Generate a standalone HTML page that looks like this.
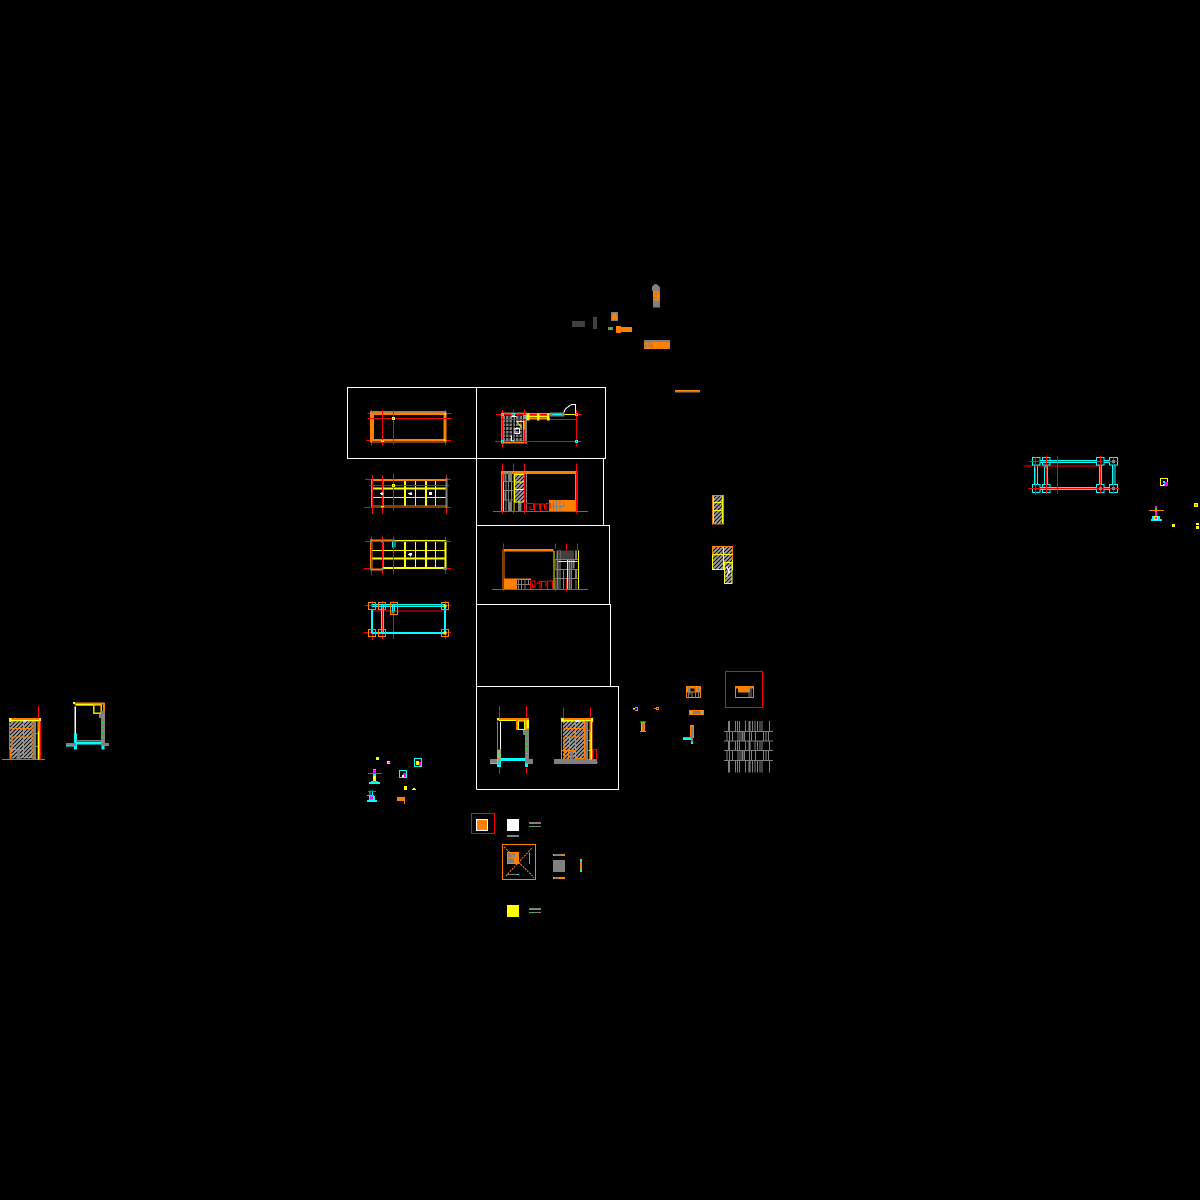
<!DOCTYPE html>
<html><head><meta charset="utf-8"><title>CAD drawing sheet</title>
<style>html,body{margin:0;padding:0;background:#000}svg{display:block}</style></head>
<body>
<svg xmlns="http://www.w3.org/2000/svg" width="1200" height="1200" viewBox="0 0 1200 1200" shape-rendering="crispEdges" fill="none">
<defs>
<pattern id="h" width="12" height="12" patternUnits="userSpaceOnUse"><rect width="12" height="12" fill="#111"/><path d="M-3 3L3 -3M0 12L12 0M9 15L15 9" stroke="#a0a0a0" stroke-width="5"/></pattern>
</defs>
<rect width="1200" height="1200" fill="#000"/>
<!-- frames -->
<path stroke="#fff" stroke-width="1" d="M347.5 387.5H605.5V458.5H347.5ZM476.5 387.5V789.5M603.5 458.5V525.5M476.5 525.5H609.5V604.5M476.5 604.5H610.5V686.5M476.5 686.5H618.5V789.5H476.5"/>

<!-- zoom 1 -->
<g transform="translate(340 380) scale(.33333)">
 <!-- plan 1 -->
 <rect x="90" y="93" width="230" height="95" fill="#ff7f00"/>
 <rect x="102" y="105" width="208" height="72" fill="#000"/>
 <rect x="96" y="183" width="218" height="2" fill="#000"/>
 <rect x="90" y="93" width="230" height="4" fill="#808080"/>
 <path stroke="#f00" stroke-width="3" d="M82 100H90M320 100H335M82 115H335M78 181H90M320 181H333M94 90V93M94 188V197M127 90V195M160 90V195M317 90V93M317 188V195"/>
 <rect x="156" y="111" width="9" height="9" fill="#ff0"/><rect x="159" y="114" width="3" height="3" fill="#ff7f00"/>
 <rect x="123" y="182" width="9" height="4" fill="#ff0"/><rect x="313" y="99" width="5" height="6" fill="#ff0"/><rect x="311" y="178" width="6" height="5" fill="#ff0"/>
 <!-- plan 2 -->
 <rect x="483" y="97" width="78" height="94" fill="#808080"/>
 <path stroke="#000" stroke-width="3" d="M492 107H551M492 118H551M492 129H551M492 140H551M492 151H551M492 162H551M492 173H551M497 107V181M507 107V181M517 107V181M527 107V181M537 107V181M547 107V181"/>
 <path stroke="#ff7f00" stroke-width="6" d="M552 97V191M483 188H561"/>
 <path stroke="#808080" stroke-width="4" d="M485 97V190"/>
 <path stroke="#f00" stroke-width="3" d="M468 103H725M483 118H712M465 184H725M488 90V203M520 88V190M553 88V190M709 90V200"/>
 <rect x="560" y="107" width="65" height="6" fill="#ff0"/>
 <path stroke="#ff7f00" stroke-width="3" d="M560 101H630M560 116H630"/>
 <path stroke="#ff0" stroke-width="8" d="M564 100V122M595 100V122M625 100V122"/>
 <rect x="630" y="98" width="44" height="12" fill="#808080"/><path stroke="#0ff" stroke-width="3" d="M638 103H666"/>
 <path stroke="#ff0" stroke-width="3" d="M673 103H705M530 125H552V148M530 125L545 142"/>
 <path stroke="#fff" stroke-width="3" d="M672 98L675 88L686 79L696 73H707V103M514 110H530M525 145H539V160H525ZM514 166V182H522"/>
 <path stroke="#0ff" stroke-width="3" d="M486 100H491V107H486ZM516 100H524V106H516ZM552 106H558V114H552ZM706 100H713V107H706ZM706 181H713V188H706ZM484 181H491V189H484ZM516 181H520V188"/>
 <!-- plan 3 -->
 <rect x="93" y="297" width="230" height="85" fill="#ff7f00"/>
 <rect x="98" y="303" width="218" height="73" fill="#000"/>
 <path stroke="#ff0" stroke-width="6" d="M98 326H316M195 303V376M258 303V376"/>
 <path stroke="#ff0" stroke-width="3" d="M98 352H316M129 303V376M226 303V376M286 303V376"/>
 <rect x="96" y="378" width="222" height="2" fill="#000"/>
 <path stroke="#f00" stroke-width="3" d="M75 298H93M323 298H333M87 317H327M72 382H93M323 382H333M97 285V402M127 285V400M160 280V392M320 285V400"/>
 <rect x="156" y="312" width="9" height="9" fill="#ff0"/><rect x="159" y="315" width="3" height="3" fill="#ff7f00"/>
 <path fill="#fff" d="M123 337H131V345H123ZM120 339H124V342H120ZM208 337H216V345H208ZM204 339H208V342H204ZM267 336H276V345H267Z"/>
 <rect x="316" y="294" width="6" height="90" fill="#808080"/>
 <rect x="123" y="378" width="9" height="4" fill="#ff0"/>
 <!-- elevation 1 -->
 <rect x="483" y="273" width="230" height="9" fill="#ff7f00"/>
 <rect x="705" y="273" width="8" height="122" fill="#ff7f00"/>
 <rect x="627" y="360" width="78" height="35" fill="#ff7f00"/>
 <rect x="522" y="282" width="33" height="85" fill="url(#h)"/>
 <path stroke="#808080" stroke-width="3" d="M484 276V395M491 276V395M498 276V395M505 276V395M515 276V395M521 276V395M559 282V395M535 367V395M543 367V395M553 367V395M484 304H520M484 332H520M484 360H520"/>
 <path stroke="#808080" stroke-width="6" d="M497 278V304M510 278V304M497 335V360M510 365V395M540 367V395"/>
 <path stroke="#ff7f00" stroke-width="3" d="M484 276V395M514 318V348"/>
 <path stroke="#ff0" stroke-width="3" d="M523 283H554V366H523ZM523 306H554M523 328H554M490 305V395M522 366V395"/>
 <path stroke="#808080" stroke-width="3" d="M633 380H675M640 360V395M650 360V395M660 360V395M670 365V380"/>
 <path stroke="#f00" stroke-width="3" d="M558 394V370H580V388H570V378M584 394V372H598V388M602 394V372H614V388M618 394V370H630V386M488 250V273M488 282V400M520 250V273M520 282V400M553 250V273M553 282V400M710 250V400"/>
 <path stroke="#f0f" stroke-width="3" d="M459 394H744"/>
</g>

<!-- zoom 2 -->
<g transform="translate(340 525) scale(.33333)">
 <!-- plan 4 -->
 <rect x="90" y="43" width="75" height="7" fill="#ff7f00"/>
 <rect x="90" y="43" width="7" height="94" fill="#ff7f00"/>
 <rect x="90" y="131" width="40" height="6" fill="#ff7f00"/>
 <path stroke="#ff0" stroke-width="3" d="M165 46H320M98 76H316M129 49V130M227 49V130M287 49V130"/>
 <path stroke="#ff0" stroke-width="6" d="M98 101H316M130 129H320M195 49V130M258 49V130M317 46V132"/>
 <path stroke="#f00" stroke-width="3" d="M75 49H333M72 130H93M320 130H333M94 35V150M127 35V148M160 35V147M316 35V46M316 132V147"/>
 <path fill="#808080" d="M90 42H96V52H90ZM123 43H131V52H123ZM157 43H167V50H157ZM90 127H96V137H90ZM123 129H131V137H123ZM311 128H321V135H311Z"/>
 <path stroke="#0ff" stroke-width="3" d="M158 50V67M165 50V67"/>
 <path fill="#fff" d="M207 84H216V92H207ZM204 87H208V90H204ZM210 92H213V95H210Z"/>
 <!-- plan 5 -->
 <path stroke="#f00" stroke-width="3" d="M97 258H316M75 241H333M72 322H95M315 322H333M97 228V250M97 326V345M127 228V342M160 228V342M316 228V240M316 326V342"/>
 <path stroke="#0ff" stroke-width="3" d="M95 239H315M95 245H315M124 240V325M130 240V325"/>
 <path stroke="#0ff" stroke-width="6" d="M96 252V325M315 240V325M95 324H315"/>
 <path stroke="#0ff" stroke-width="3" d="M158 240V260M164 240V260"/>
 <path stroke="#ff7f00" stroke-width="3" d="M85 232H107V254H85ZM115 232H137V254H115ZM151 232H173V269H151ZM304 232H326V254H304ZM85 313H107V334H85ZM115 313H137V334H115ZM304 313H326V334H304Z"/>
 <path fill="#ff0" d="M310 238H320V248H310ZM310 319H320V329H310Z"/>
 <rect x="155" y="258" width="9" height="7" fill="#808080"/>
 <!-- elevation 2 -->
 <rect x="487" y="72" width="160" height="8" fill="#ff7f00"/>
 <rect x="487" y="72" width="7" height="123" fill="#ff7f00"/>
 <rect x="494" y="160" width="79" height="33" fill="#ff7f00"/>
 <rect x="531" y="165" width="42" height="28" fill="#000"/>
 <rect x="640" y="72" width="77" height="122" fill="#000"/>
 <rect x="658" y="76" width="44" height="27" fill="#404040"/>
 <path stroke="#808080" stroke-width="6" d="M652 76V194M700 105V130M708 76V102M708 135V160M688 105V194"/>
 <path stroke="#808080" stroke-width="3" d="M645 103H715M645 133H715M645 160H715M660 75V194M670 135V194M695 105V194M708 165V194"/>
 <path stroke="#ff0" stroke-width="3" d="M642 78V194M682 105V194M715 76V194M655 109H712"/>
 <path stroke="#808080" stroke-width="3" d="M529 178H572M535 160V195M545 160V195M555 160V195M565 165V178"/>
 <path stroke="#f00" stroke-width="3" d="M571 193V168H585V186H578V176M590 178L600 168V193M604 190V170H618V186M622 193V168H638V190M490 55V198M646 55V72M646 105V135M679 55V76M679 160V198M712 55V76M646 165V198"/>
 <path stroke="#f0f" stroke-width="3" d="M456 193H744"/>
</g>

<!-- zoom 3 -->
<g transform="translate(470 680) scale(.33333)">
 <rect x="60" y="237" width="30" height="14" fill="#808080"/>
 <rect x="165" y="237" width="24" height="15" fill="#808080"/>
 <rect x="165" y="145" width="12" height="100" fill="#808080"/>
 <rect x="159" y="150" width="12" height="15" fill="#808080"/>
 <rect x="88" y="234" width="78" height="9" fill="#0ff"/>
 <path stroke="#0ff" stroke-width="3" d="M60 250H84"/>
 <rect x="81" y="210" width="12" height="51" fill="#0ff"/><rect x="165" y="250" width="9" height="11" fill="#0ff"/>
 <rect x="85" y="215" width="3" height="40" fill="#808080"/>
 <rect x="81" y="114" width="96" height="8" fill="#ff7f00"/>
 <path stroke="#ff0" stroke-width="3" d="M87 121H140"/>
 <path stroke="#fff" stroke-width="3" d="M91 124V208"/><path stroke="#808080" stroke-width="3" d="M82 124V208"/>
 <rect x="82" y="208" width="9" height="30" fill="#ff7f00"/><rect x="85" y="212" width="4" height="22" fill="#0ff"/>
 <rect x="138" y="120" width="33" height="30" fill="#ff7f00"/><rect x="145" y="123" width="18" height="25" fill="#000" stroke="#ff0" stroke-width="3"/>
 <rect x="170" y="120" width="7" height="25" fill="#ff0"/><rect x="81" y="114" width="6" height="7" fill="#ff0"/>
 <path stroke="#0f0" stroke-width="3" d="M168 162H173M168 177H173M168 192H173M168 205H173M168 220H173M168 233H173"/>
 <path stroke="#f00" stroke-width="3" d="M88 78V114M88 262V282M169 78V114M169 262V282"/>
 <!-- section 2 -->
 <rect x="252" y="237" width="129" height="15" fill="#808080"/><path stroke="#808080" stroke-width="3" d="M375 247H384"/>
 <rect x="279" y="125" width="65" height="112" fill="url(#h)"/>
 <rect x="273" y="114" width="96" height="10" fill="#ff7f00"/>
 <path stroke="#ff0" stroke-width="4" d="M279 122H368"/>
 <rect x="273" y="114" width="8" height="12" fill="#ff0"/><rect x="363" y="114" width="7" height="12" fill="#ff0"/>
 <rect x="315" y="120" width="12" height="6" fill="#fff"/>
 <path stroke="#808080" stroke-width="9" d="M304 210V237M350 126V237"/>
 <path stroke="#808080" stroke-width="3" d="M275 124V212M345 152H366M345 182H366M345 211H366"/>
 <path stroke="#ff7f00" stroke-width="3" d="M280 146H344M282 171H318M274 211H315M318 171H344M316 236H344M344 125V236M316 125V236M282 171V211M274 211V237M295 211V237M315 150V170M283 212V237M298 170V210"/>
 <rect x="358" y="126" width="10" height="112" fill="#ff7f00"/>
 <path stroke="#ff0" stroke-width="3" d="M360 155V238M364 126V238"/>
 <path stroke="#f00" stroke-width="3" d="M280 82V114M361 82V114M370 208H380V240M369 208V240"/>
 <path stroke="#00f" stroke-width="3" d="M352 113H370V128"/>
</g>

<!-- zoom 4 -->
<g transform="translate(460 805) scale(.33333)">
 <rect x="34.500" y="25.500" width="69" height="60" stroke="#f00" stroke-width="3"/>
 <rect x="48" y="42" width="36" height="36" fill="#fff"/><rect x="51" y="45" width="30" height="30" fill="#ff7f00"/>
 <rect x="141" y="42" width="36" height="36" fill="#fff"/><rect x="141" y="90" width="36" height="6" fill="#808080"/>
 <rect x="207" y="51" width="36" height="6" fill="#808080"/><rect x="207" y="63" width="36" height="3" fill="#808080"/>
 <rect x="219" y="51" width="3" height="3" fill="#0f0"/><rect x="216" y="63" width="3" height="3" fill="#0f0"/>
 <rect x="127.500" y="118.500" width="99" height="105" stroke="#ff7f00" stroke-width="3"/>
 <rect x="141" y="141" width="36" height="36" fill="#ff7f00"/><rect x="144" y="144" width="21" height="14" fill="#808080"/><rect x="144" y="161" width="18" height="13" fill="#808080"/>
 <path stroke="#ff7f00" stroke-width="3" stroke-dasharray="6 3" d="M132 126L222 218M215 130L136 215"/>
 <path stroke="#ff7f00" stroke-width="3" d="M208 142V177"/><path stroke="#808080" stroke-width="3" d="M141 208H172"/><path stroke="#0ff" stroke-width="3" d="M172 208H177"/>
 <rect x="279" y="147" width="36" height="6" fill="#808080"/><rect x="303" y="147" width="12" height="6" fill="#ff7f00"/><rect x="279" y="147" width="3" height="6" fill="#0ff"/>
 <rect x="279" y="165" width="36" height="36" fill="#808080"/>
 <rect x="279" y="216" width="36" height="6" fill="#ff7f00"/><rect x="283" y="216" width="12" height="6" fill="#808080"/><rect x="279" y="216" width="3" height="6" fill="#0ff"/>
 <rect x="360" y="162" width="6" height="39" fill="#0ff"/><rect x="360" y="168" width="6" height="27" fill="#ff7f00"/>
 <rect x="141" y="300" width="36" height="36" fill="#ff0"/>
 <rect x="207" y="309" width="36" height="6" fill="#808080"/><rect x="207" y="321" width="36" height="3" fill="#808080"/>
 <rect x="219" y="310" width="6" height="4" fill="#0f0"/><rect x="238" y="310" width="4" height="4" fill="#0f0"/><rect x="216" y="321" width="3" height="3" fill="#0f0"/>
</g>

<!-- zoom 5 -->
<g transform="translate(625 665) scale(.33333)">
 <rect x="301.500" y="19.500" width="111" height="108" stroke="#f00" stroke-width="3"/>
 <rect x="330" y="63" width="57" height="36" fill="#ff7f00"/><rect x="333" y="70" width="51" height="26" fill="#000"/><rect x="339" y="69" width="36" height="14" fill="#ff7f00"/>
 <path stroke="#808080" stroke-width="3" d="M372 66V96M378 66V96"/>
 <rect x="183" y="63" width="45" height="36" fill="#ff7f00"/><rect x="186" y="82" width="39" height="14" fill="#000"/><rect x="195" y="70" width="14" height="10" fill="#000"/>
 <path stroke="#808080" stroke-width="3" d="M190 66V100M195 66V88M211 66V96M201 82V96M220 66V96"/>
 <rect x="192" y="135" width="45" height="15" fill="#ff7f00"/><rect x="204" y="138" width="22" height="9" fill="#808080"/>
 <path stroke="#0ff" stroke-width="3" d="M198 138V147M231 138V147"/>
 <rect x="195" y="180" width="12" height="39" fill="#ff7f00"/><rect x="198" y="186" width="6" height="33" fill="#808080"/>
 <rect x="174" y="216" width="24" height="9" fill="#0ff"/><rect x="174" y="216" width="24" height="3" fill="#ff7f00"/><rect x="198" y="219" width="6" height="18" fill="#0ff"/><rect x="198" y="219" width="6" height="12" fill="#808080"/>
 <path fill="#ff0" d="M24 129H30V134H24Z"/><path fill="#00f" d="M30 129H36V135H30Z"/><path stroke="#ff7f00" stroke-width="3" d="M30 127H38V137H30"/>
 <path stroke="#ff7f00" stroke-width="3" d="M87 130H94M94 127H101V134H94Z"/>
 <rect x="48" y="171" width="12" height="27" fill="#ff7f00"/><rect x="48" y="171" width="3" height="27" fill="#0ff"/><rect x="53" y="174" width="4" height="21" fill="#808080"/>
 <path stroke="#0f0" stroke-width="3" d="M45 171H63M45 199H63M55 168V171"/>
 <path stroke="#808080" stroke-width="3" d="M297 199H444M297 228H444M297 256H444M297 286H444M331 168V198M338 168V198M344 168V198M361 168V198M383 168V198M390 168V198M398 168V198M405 168V198M411 168V198M433 168V198M306 200V228M314 200V228M322 200V228M339 200V228M345 200V228M358 200V228M373 200V228M380 200V228M391 200V228M415 200V228M423 200V228M431 200V228M331 229V256M338 229V256M344 229V256M361 229V256M390 229V256M398 229V256M405 229V256M411 229V256M433 229V256M306 257V286M314 257V286M322 257V286M339 257V286M345 257V286M358 257V286M373 257V286M380 257V286M391 257V286M415 257V286M423 257V286M431 257V286M331 287V323M338 287V323M344 287V323M361 287V323M383 287V323M390 287V323M398 287V323M405 287V323M411 287V323M433 287V323"/>
 <path stroke="#808080" stroke-width="6" d="M312 168V198M373 168V198M353 200V228M312 229V256M373 229V256M353 257V286M312 287V323M373 287V323"/>
</g>

<!-- zoom 6 -->
<g transform="translate(0 695) scale(.33333)">
 <path stroke="#808080" stroke-width="3" d="M6 193H135"/>
 <rect x="30" y="78" width="70" height="112" fill="url(#h)"/>
 <rect x="27" y="69" width="96" height="10" fill="#ff7f00"/>
 <path stroke="#ff0" stroke-width="3" d="M33 77H118"/><rect x="27" y="69" width="7" height="12" fill="#ff0"/><rect x="117" y="69" width="6" height="12" fill="#ff0"/>
 <rect x="69" y="75" width="12" height="5" fill="#fff"/>
 <path stroke="#808080" stroke-width="9" d="M55 163V192M103 80V192"/>
 <path stroke="#ff7f00" stroke-width="3" d="M33 100H95M33 126H69M72 126H95M30 163H70M70 188H96M70 80V188M96 80V188M36 126V163"/>
 <path stroke="#ff7f00" stroke-width="6" d="M31 163V192"/>
 <path stroke="#808080" stroke-width="3" d="M28 80V165M95 116H123M95 154H120"/>
 <rect x="112" y="78" width="11" height="115" fill="#ff7f00"/><path stroke="#ff0" stroke-width="3" d="M116 110V193"/>
 <path stroke="#f00" stroke-width="3" d="M115 33V70M122 78V193"/>
 <!-- second -->
 <path stroke="#ff7f00" stroke-width="6" d="M222 25H313"/>
 <path stroke="#ff7f00" stroke-width="3" d="M226 32H280"/><path stroke="#ff0" stroke-width="3" d="M226 29H280"/>
 <rect x="219" y="21" width="6" height="6" fill="#ff0"/>
 <rect x="279" y="27" width="27" height="30" fill="#ff7f00"/><rect x="282" y="30" width="21" height="24" fill="#000" stroke="#ff0" stroke-width="3"/>
 <rect x="309" y="24" width="6" height="24" fill="#ff7f00"/>
 <rect x="303" y="48" width="12" height="105" fill="#808080"/><rect x="297" y="57" width="12" height="12" fill="#808080"/>
 <path stroke="#fff" stroke-width="3" d="M227 34V115"/><path stroke="#808080" stroke-width="3" d="M223 34V115"/>
 <rect x="222" y="115" width="9" height="49" fill="#0ff"/>
 <rect x="228" y="139" width="76" height="9" fill="#0ff"/><rect x="228" y="135" width="76" height="3" fill="#808080"/>
 <rect x="198" y="144" width="30" height="9" fill="#808080"/><path stroke="#0ff" stroke-width="3" d="M198 153H222"/>
 <rect x="303" y="144" width="24" height="9" fill="#808080"/><rect x="304" y="153" width="10" height="11" fill="#0ff"/>
 <path stroke="#0f0" stroke-width="3" d="M306 68H311M306 82H311M306 97H311M306 112H311M306 126H311M306 140H311"/>
</g>

<!-- zoom 7 -->
<g transform="translate(360 750) scale(.33333)">
 <rect x="48" y="21" width="9" height="9" fill="#ff0"/>
 <rect x="81" y="33" width="9" height="9" fill="#ff0"/><rect x="84" y="36" width="6" height="3" fill="#f0f"/>
 <rect x="163.500" y="25.500" width="21" height="24" stroke="#0ff" stroke-width="3"/><rect x="168" y="33" width="9" height="12" fill="#ff0"/><rect x="177" y="36" width="6" height="12" fill="#f0f"/>
 <rect x="118.500" y="61.500" width="21" height="21" stroke="#0ff" stroke-width="3"/><rect x="129" y="69" width="9" height="12" fill="#f0f"/><rect x="126" y="75" width="6" height="6" fill="#fff"/>
 <rect x="39" y="57" width="9" height="39" fill="#0ff"/><rect x="39" y="60" width="9" height="9" fill="#f0f"/><rect x="39" y="78" width="9" height="15" fill="#ff0"/>
 <path stroke="#f0f" stroke-width="3" d="M24 70H66"/>
 <rect x="27" y="96" width="33" height="6" fill="#0ff"/><rect x="33" y="93" width="21" height="3" fill="#0f0"/>
 <path stroke="#0ff" stroke-width="3" d="M30 121V135M37 121V135"/>
 <path stroke="#f0f" stroke-width="3" d="M24 124H48"/><path stroke="#0f0" stroke-width="3" d="M21 136H42"/>
 <rect x="27" y="138" width="18" height="12" fill="#0ff"/><rect x="30" y="139" width="9" height="9" fill="#f0f"/><rect x="21" y="150" width="30" height="6" fill="#0ff"/>
 <rect x="132" y="108" width="9" height="12" fill="#ff0"/>
 <rect x="156" y="117" width="12" height="3" fill="#ff0"/><rect x="159" y="114" width="6" height="3" fill="#ff0"/>
 <rect x="111" y="141" width="24" height="12" fill="#ff7f00"/><rect x="132" y="141" width="3" height="21" fill="#ff7f00"/><rect x="123" y="144" width="3" height="3" fill="#808080"/>
</g>

<!-- zoom 8 -->
<g transform="translate(1020 450) scale(.33333)">
 <path stroke="#0ff" stroke-width="3" d="M60 31H230M60 37H230M60 112H230M60 118H230M253 31H268M253 37H268M253 112H268M253 118H268M43 45V102M52 45V102M73 45V102M82 45V102M238 45V102M245 45V102M277 45V102M285 45V102"/>
 <path stroke="#0ff" stroke-width="3" d="M37 22H60V45H37ZM67 22H90V45H67ZM229 22H252V45H229ZM268 22H293V45H268ZM37 103H60V127H37ZM67 103H90V127H67ZM229 103H252V127H229ZM268 103H293V127H268Z"/>
 <path stroke="#f00" stroke-width="3" d="M10 48H240M27 34H297M25 115H297M46 22V135M79 18V132M112 18V132M241 18V132M280 22V132"/>
 <path fill="#808080" d="M73 45H82V52H73ZM276 30H285V39H276ZM237 111H246V120H237ZM276 111H285V120H276Z"/>
 <rect x="421.500" y="85.500" width="21" height="21" stroke="#ff0" stroke-width="3"/>
 <rect x="432" y="96" width="12" height="12" fill="#f0f"/><rect x="429" y="93" width="6" height="6" fill="#0ff"/><rect x="429" y="102" width="5" height="4" fill="#fff"/>
 <rect x="405" y="168" width="6" height="30" fill="#0f0"/><rect x="405" y="168" width="6" height="6" fill="#f0f"/><rect x="405" y="186" width="6" height="12" fill="#f0f"/>
 <path stroke="#ff7f00" stroke-width="3" d="M387 181H432"/>
 <rect x="393" y="207" width="33" height="6" fill="#0ff"/><rect x="396" y="198" width="24" height="9" fill="#0ff"/><rect x="402" y="198" width="12" height="12" fill="#ff0"/><rect x="405" y="201" width="6" height="6" fill="#f0f"/>
 <rect x="522" y="159" width="12" height="12" fill="#ff0"/><rect x="525" y="162" width="6" height="6" fill="#ff7f00"/>
 <rect x="456" y="222" width="9" height="9" fill="#ff0"/>
 <rect x="528" y="219" width="9" height="6" fill="#ff0"/><rect x="528" y="228" width="9" height="9" fill="#ff0"/>
</g>

<!-- zoom 9 -->
<g transform="translate(565 280) scale(.33333)">
 <rect x="21" y="123" width="39" height="18" fill="#404040"/>
 <rect x="84" y="111" width="12" height="36" fill="#404040"/>
 <rect x="138" y="96" width="21" height="27" fill="#808080"/><rect x="141" y="105" width="15" height="15" fill="#ff7f00"/><rect x="144" y="99" width="9" height="9" fill="#ff7f00"/>
 <rect x="129" y="141" width="15" height="9" fill="#808080"/><rect x="135" y="144" width="3" height="3" fill="#0f0"/>
 <rect x="153" y="138" width="15" height="21" fill="#ff7f00"/><rect x="168" y="141" width="33" height="15" fill="#ff7f00"/>
 <rect x="264" y="33" width="21" height="50" fill="#808080"/><path fill="#808080" d="M261 33V21L270 12H274L285 21V33Z"/>
 <rect x="264" y="33" width="18" height="28" fill="#ff7f00"/><rect x="270" y="39" width="8" height="6" fill="#808080"/><rect x="264" y="51" width="12" height="5" fill="#808080"/>
 <rect x="237" y="180" width="78" height="27" fill="#ff7f00"/><rect x="237" y="180" width="78" height="6" fill="#808080"/>
 <path stroke="#808080" stroke-width="3" d="M240 186H260M237 198H262M243 190V204M252 183V200M260 190V204"/>
 <path stroke="#808080" stroke-width="3" stroke-dasharray="3 6" d="M264 204H315"/>
 <rect x="330" y="330" width="75" height="4" fill="#ff7f00"/><path stroke="#808080" stroke-width="3" d="M330 336H405"/>
</g>

<!-- zoom 10 -->
<g transform="translate(700 490) scale(.33333)">
 <rect x="38" y="16" width="33" height="86" fill="url(#h)" stroke="#ff7f00" stroke-width="3"/>
 <path stroke="#ff0" stroke-width="3" d="M41 38H68M41 62H68M41 19V99M68 19V99"/>
 <rect x="38" y="169" width="60" height="70" fill="url(#h)" stroke="#ff0" stroke-width="3"/>
 <path stroke="#ff7f00" stroke-width="3" d="M38 169H98V210M38 169V192"/>
 <path stroke="#ff0" stroke-width="3" d="M38 194H98M70 169V239"/>
 <rect x="74" y="218" width="22" height="63" fill="url(#h)" stroke="#ff0" stroke-width="3"/>
 <path stroke="#fff" stroke-width="3" d="M80 230L90 250M90 230L80 262"/>
</g>
</svg>
</body></html>
